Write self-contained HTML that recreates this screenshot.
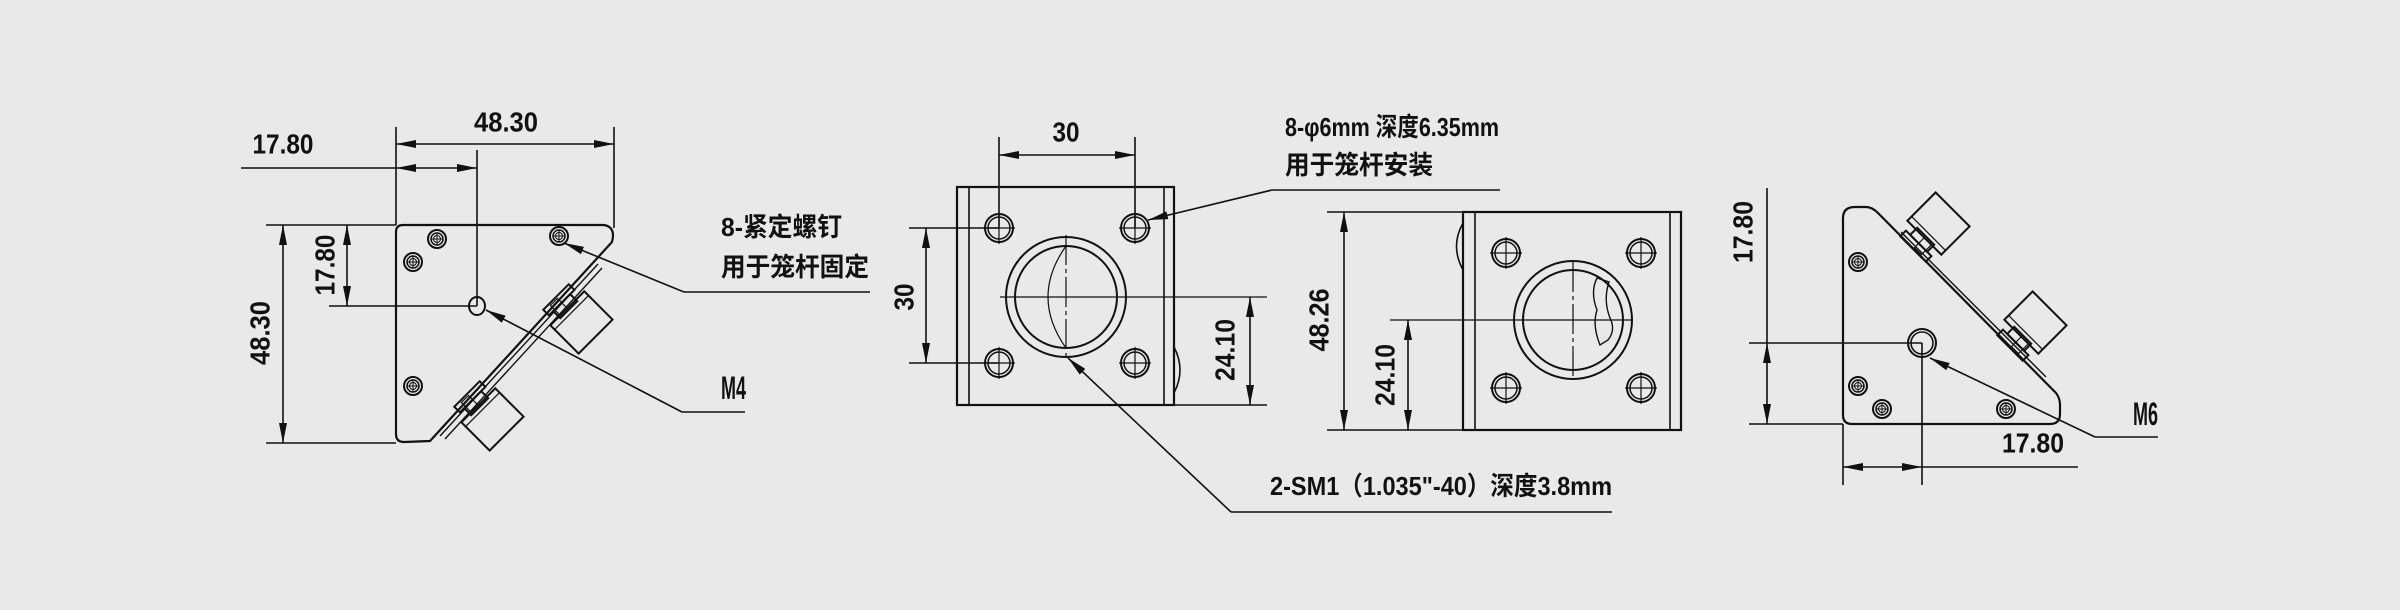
<!DOCTYPE html>
<html><head><meta charset="utf-8"><style>
html,body{margin:0;padding:0;background:#e9e9e9;}
svg{display:block}
.n{font-family:"Liberation Sans",sans-serif;font-weight:bold;font-size:28px;fill:#111;}
.c{font-family:"Liberation Sans","Noto Sans CJK SC",sans-serif;font-weight:bold;font-size:26px;fill:#111;}
</style></head><body>
<svg width="2400" height="610" viewBox="0 0 2400 610" xmlns="http://www.w3.org/2000/svg">
<defs>
<marker id="a" viewBox="0 0 20 8" refX="20" refY="4" markerWidth="20" markerHeight="8" markerUnits="userSpaceOnUse" orient="auto-start-reverse"><path d="M0,0 L20,4 L0,8 Z" fill="#111"/></marker>
<g id="scr"><circle r="9" fill="none" stroke="#111" stroke-width="2"/><circle r="6" fill="none" stroke="#111" stroke-width="1.5"/><circle r="3.5" fill="none" stroke="#111" stroke-width="1"/><line x1="-6" y1="0" x2="6" y2="0" stroke="#111"/><line x1="0" y1="-6" x2="0" y2="6" stroke="#111"/></g>
<g id="hole"><circle r="14" fill="none" stroke="#111" stroke-width="2"/><circle r="11" fill="none" stroke="#111" stroke-width="1.5"/><line x1="-16" y1="0" x2="16" y2="0" stroke="#111" stroke-width="1.2"/><line x1="0" y1="-16" x2="0" y2="16" stroke="#111" stroke-width="1.2"/></g>
<g id="knob" fill="none" stroke="#111" stroke-width="2"><rect x="-18" y="0" width="36" height="8"/><rect x="-12" y="8" width="24" height="10"/><rect x="-10" y="2" width="10" height="14" stroke-width="1.2"/><rect x="-24" y="16" width="48" height="40"/><line x1="-24" y1="22" x2="24" y2="22" stroke-width="1.2"/></g>
</defs>
<g fill="none" stroke="#111" stroke-width="1.6">
<!-- LEFT VIEW -->
<path d="M396,232 Q396,225 403,225 L604,225 Q616,227 612,242 L430,441 L404,442 Q396,442 396,434 Z" stroke-width="2.2"/>
<line x1="598" y1="264" x2="440" y2="436" stroke-width="1.4"/>
<line x1="602" y1="268" x2="445" y2="439" stroke-width="1.4"/>
<line x1="396" y1="127" x2="396" y2="225"/>
<line x1="614" y1="127" x2="614" y2="228"/>
<line x1="396" y1="144" x2="614" y2="144" marker-start="url(#a)" marker-end="url(#a)"/>
<line x1="241" y1="168" x2="396" y2="168"/>
<line x1="396" y1="168" x2="477" y2="168" marker-start="url(#a)" marker-end="url(#a)"/>
<line x1="477" y1="150" x2="477" y2="306"/>
<line x1="266" y1="225" x2="396" y2="225"/>
<line x1="266" y1="443" x2="396" y2="443"/>
<line x1="283" y1="225" x2="283" y2="443" marker-start="url(#a)" marker-end="url(#a)"/>
<line x1="347" y1="225" x2="347" y2="306" marker-start="url(#a)" marker-end="url(#a)"/>
<line x1="329" y1="306" x2="477" y2="306"/>
<ellipse cx="477" cy="306" rx="8" ry="9" stroke-width="2"/>
<line x1="684" y1="292" x2="870" y2="292"/>
<line x1="684" y1="292" x2="564" y2="243" marker-end="url(#a)"/>
<line x1="682" y1="412" x2="745" y2="412"/>
<line x1="682" y1="412" x2="486" y2="310" marker-end="url(#a)"/>
</g>
<use href="#scr" x="437" y="239"/><use href="#scr" x="413" y="262"/><use href="#scr" x="413" y="386"/><use href="#scr" x="559" y="236"/>
<use href="#knob" transform="translate(556,297) rotate(-45)"/>
<use href="#knob" transform="translate(467,394) rotate(-45)"/>

<!-- MIDDLE VIEW 1 -->
<g fill="none" stroke="#111" stroke-width="1.6">
<rect x="957" y="187" width="217" height="218" stroke-width="2.2"/>
<line x1="969" y1="187" x2="969" y2="405"/><line x1="1164" y1="187" x2="1164" y2="405"/>
<path d="M1174,347 Q1186,370 1174,393"/>
<circle cx="1066" cy="297" r="60" stroke-width="2"/>
<circle cx="1066" cy="297" r="51" stroke-width="2"/>
<path d="M1066,246 Q1030,297 1066,348" stroke-width="1.2"/>
<line x1="1066" y1="235" x2="1066" y2="360" stroke-dasharray="30,4,4,4" stroke-width="1.2"/>
<line x1="1000" y1="297" x2="1267" y2="297" stroke-width="1.2"/>
<line x1="999" y1="137" x2="999" y2="228"/><line x1="1135" y1="137" x2="1135" y2="228"/>
<line x1="999" y1="155" x2="1135" y2="155" marker-start="url(#a)" marker-end="url(#a)"/>
<line x1="909" y1="228" x2="999" y2="228"/><line x1="909" y1="363" x2="999" y2="363"/>
<line x1="926" y1="228" x2="926" y2="363" marker-start="url(#a)" marker-end="url(#a)"/>
<line x1="1174" y1="405" x2="1267" y2="405"/>
<line x1="1250" y1="297" x2="1250" y2="405" marker-start="url(#a)" marker-end="url(#a)"/>
<line x1="1272" y1="190" x2="1500" y2="190"/>
<line x1="1272" y1="190" x2="1148" y2="220" marker-end="url(#a)"/>
<line x1="1231" y1="512" x2="1612" y2="512"/>
<line x1="1231" y1="512" x2="1068" y2="358" marker-end="url(#a)"/>
<!-- MIDDLE VIEW 2 -->
<rect x="1463" y="212" width="218" height="218" stroke-width="2.2"/>
<line x1="1475" y1="212" x2="1475" y2="430"/><line x1="1670" y1="212" x2="1670" y2="430"/>
<path d="M1463,223 Q1450,246 1463,270"/>
<circle cx="1573" cy="320" r="59" stroke-width="2"/>
<circle cx="1573" cy="320" r="50" stroke-width="2"/>
<path d="M1597,278 L1609,282 Q1603,300 1610,318 Q1616,330 1608,340 L1600,345 Q1592,325 1597,310 Q1590,292 1597,278 Z" stroke-width="1.4"/>
<line x1="1573" y1="262" x2="1573" y2="380" stroke-dasharray="30,4,4,4" stroke-width="1.2"/>
<line x1="1390" y1="320" x2="1633" y2="320" stroke-width="1.2"/>
<line x1="1327" y1="212" x2="1463" y2="212"/><line x1="1327" y1="430" x2="1463" y2="430"/>
<line x1="1344" y1="212" x2="1344" y2="430" marker-start="url(#a)" marker-end="url(#a)"/>
<line x1="1408" y1="320" x2="1408" y2="430" marker-start="url(#a)" marker-end="url(#a)"/>
</g>
<use href="#hole" x="999" y="228"/><use href="#hole" x="1135" y="228"/><use href="#hole" x="999" y="363"/><use href="#hole" x="1135" y="363"/>
<use href="#hole" x="1506" y="253"/><use href="#hole" x="1641" y="253"/><use href="#hole" x="1506" y="388"/><use href="#hole" x="1641" y="388"/>

<!-- RIGHT VIEW -->
<g fill="none" stroke="#111" stroke-width="1.6">
<path d="M1843,218 Q1843,207 1855,207 L1866,207 Q1872,207 1878,213 L2056,393 Q2060,398 2060,405 L2060,414 Q2060,424 2050,424 L1852,424 Q1843,424 1843,415 Z" stroke-width="2.2"/>
<line x1="1901" y1="232" x2="2046" y2="377" stroke-width="1.4"/>
<line x1="1767" y1="188" x2="1767" y2="343"/>
<line x1="1767" y1="343" x2="1767" y2="424" marker-start="url(#a)" marker-end="url(#a)"/>
<line x1="1749" y1="343" x2="1922" y2="343"/>
<line x1="1749" y1="424" x2="1843" y2="424"/>
<line x1="1922" y1="343" x2="1922" y2="485"/>
<line x1="1843" y1="424" x2="1843" y2="485"/>
<line x1="1843" y1="467" x2="1922" y2="467" marker-start="url(#a)" marker-end="url(#a)"/>
<line x1="1922" y1="467" x2="2078" y2="467"/>
<circle cx="1922" cy="343" r="14" stroke-width="2"/><circle cx="1922" cy="343" r="11"/>
<line x1="2095" y1="437" x2="2158" y2="437"/>
<line x1="2095" y1="437" x2="1930" y2="358" marker-end="url(#a)"/>
</g>
<use href="#scr" x="1858" y="262"/><use href="#scr" x="1858" y="386"/><use href="#scr" x="1882" y="409"/><use href="#scr" x="2006" y="409"/>
<use href="#knob" transform="translate(1913,249) rotate(-135)"/>
<use href="#knob" transform="translate(2010,348) rotate(-135)"/>

<!-- TEXT -->
<g class="n" text-anchor="middle" dominant-baseline="central">
<text x="506" y="122" textLength="64" lengthAdjust="spacingAndGlyphs">48.30</text>
<text x="283" y="144" textLength="61" lengthAdjust="spacingAndGlyphs">17.80</text>
<text transform="translate(260,333) rotate(-90)" textLength="64" lengthAdjust="spacingAndGlyphs">48.30</text>
<text transform="translate(325,265) rotate(-90)" textLength="61" lengthAdjust="spacingAndGlyphs">17.80</text>
<text x="1066" y="132" textLength="27" lengthAdjust="spacingAndGlyphs">30</text>
<text transform="translate(904,297) rotate(-90)" textLength="27" lengthAdjust="spacingAndGlyphs">30</text>
<text transform="translate(1225,350) rotate(-90)" textLength="62" lengthAdjust="spacingAndGlyphs">24.10</text>
<text transform="translate(1319,320) rotate(-90)" textLength="63" lengthAdjust="spacingAndGlyphs">48.26</text>
<text transform="translate(1385,375) rotate(-90)" textLength="62" lengthAdjust="spacingAndGlyphs">24.10</text>
<text transform="translate(1743,232) rotate(-90)" textLength="62" lengthAdjust="spacingAndGlyphs">17.80</text>
<text x="2033" y="443" textLength="62" lengthAdjust="spacingAndGlyphs">17.80</text>
</g>
<g class="n" dominant-baseline="central" style="font-size:32px">
<text x="721" y="388" textLength="25" lengthAdjust="spacingAndGlyphs">M4</text>
<text x="2133" y="414" textLength="25" lengthAdjust="spacingAndGlyphs">M6</text>
</g>
<g class="c" dominant-baseline="central">
<text x="721" y="227" textLength="121" lengthAdjust="spacingAndGlyphs">8-紧定螺钉</text>
<text x="721" y="267" textLength="148" lengthAdjust="spacingAndGlyphs">用于笼杆固定</text>
<text x="1285" y="127" textLength="214" lengthAdjust="spacingAndGlyphs">8-φ6mm 深度6.35mm</text>
<text x="1285" y="165" textLength="148" lengthAdjust="spacingAndGlyphs">用于笼杆安装</text>
<text x="1270" y="486" textLength="342" lengthAdjust="spacingAndGlyphs">2-SM1（1.035"-40）深度3.8mm</text>
</g>
</svg>
</body></html>
